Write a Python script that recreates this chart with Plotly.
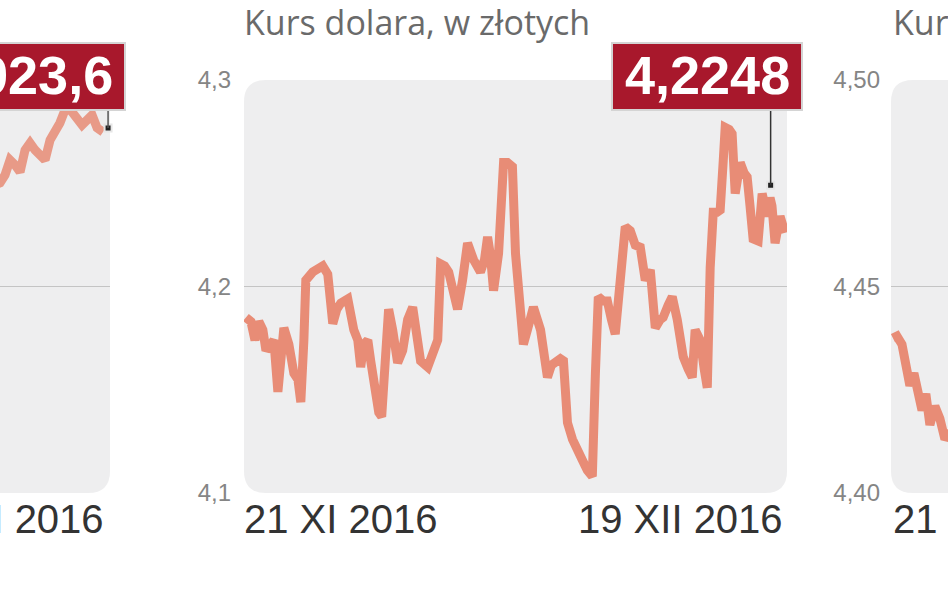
import plotly.graph_objects as go

W, H = 948, 593

# ---------------- data ----------------
# middle panel: USD/PLN, x = days since 21 XI 2016
usd_days = [0, 0.26, 0.47, 0.67, 0.88, 1.04, 1.30, 1.45, 1.66, 1.81, 1.97, 2.23, 2.49, 2.70, 2.85,
            3.01, 3.11, 3.47, 3.73, 3.99, 4.25, 4.51, 4.72, 4.93, 5.29, 5.44, 5.60, 5.81, 5.96,
            6.12, 6.33, 6.48, 6.64, 6.90, 7.05, 7.26, 7.41, 7.62, 7.88, 8.14, 8.40, 8.66, 8.87,
            9.07, 9.44, 9.70, 9.96, 10.11, 10.32, 10.53, 10.73, 10.99, 11.25, 11.51, 11.82, 12.18,
            12.39, 12.55, 12.70, 12.86, 13.12, 13.27, 13.38, 13.58, 13.84, 14.00, 14.21, 14.41,
            14.62, 14.93, 15.30, 15.66, 15.87, 16.07, 16.33, 16.49, 16.70, 16.96, 17.21, 17.47,
            17.73, 17.99, 18.15, 18.30, 18.56, 18.77, 18.98, 19.18, 19.44, 19.70, 19.96, 20.22,
            20.48, 20.74, 21.00, 21.26, 21.52, 21.67, 21.93, 22.14, 22.40, 22.71, 22.97, 23.18,
            23.33, 23.59, 23.80, 23.96, 24.11, 24.27, 24.47, 24.63, 24.79, 24.89, 25.10, 25.25,
            25.41, 25.56, 25.67, 25.87, 26.03, 26.18, 26.34, 26.60, 26.81, 27.07, 27.22, 27.32,
            27.48, 27.74, 28.00]
usd_values = [4.185, 4.183, 4.174, 4.183, 4.179, 4.169, 4.172, 4.174, 4.149, 4.164, 4.180, 4.172,
              4.158, 4.155, 4.144, 4.174, 4.203, 4.207, 4.209, 4.210, 4.206, 4.182, 4.189, 4.192,
              4.194, 4.186, 4.179, 4.174, 4.161, 4.172, 4.174, 4.164, 4.151, 4.139, 4.137, 4.174,
              4.189, 4.179, 4.163, 4.169, 4.184, 4.190, 4.174, 4.164, 4.161, 4.167, 4.174, 4.211,
              4.210, 4.207, 4.198, 4.189, 4.203, 4.221, 4.213, 4.207, 4.213, 4.224, 4.215, 4.198,
              4.216, 4.242, 4.260, 4.260, 4.258, 4.216, 4.198, 4.172, 4.179, 4.190, 4.179, 4.156,
              4.162, 4.164, 4.165, 4.164, 4.134, 4.126, 4.122, 4.116, 4.111, 4.108, 4.158, 4.195,
              4.193, 4.193, 4.184, 4.177, 4.203, 4.229, 4.227, 4.220, 4.219, 4.203, 4.208, 4.180,
              4.184, 4.185, 4.191, 4.195, 4.184, 4.166, 4.160, 4.156, 4.179, 4.174, 4.160, 4.151,
              4.209, 4.236, 4.236, 4.237, 4.261, 4.277, 4.276, 4.274, 4.245, 4.254, 4.260, 4.255,
              4.253, 4.239, 4.223, 4.222, 4.245, 4.234, 4.243, 4.239, 4.221, 4.234, 4.226]
usd_ticks = [4.1, 4.2, 4.3]
usd_ticktext = ["4,1", "4,2", "4,3"]
usd_marker_day = 27.25
usd_marker_value = 4.249
usd_label = "4,2248"

# left panel (cut off): index, only the last days visible
left_days = [22.13, 22.39, 22.65, 22.91, 23.17, 23.43, 23.69, 23.95, 24.21, 24.47, 24.73, 24.99,
             25.25, 25.50, 25.76, 25.92, 26.13, 26.39, 26.65, 26.91, 27.17, 27.43, 27.74]
left_values = [1886.4, 1887.7, 1892.5, 1901.6, 1898.6, 1894.3, 1907.6, 1911.9, 1907.6, 1904.0,
               1901.6, 1913.7, 1917.9, 1924.0, 1931.8, 1933.1, 1930.6, 1927.0, 1922.8, 1925.8,
               1928.8, 1921.0, 1918.5]
left_ticks = [1700, 1825, 1950]
left_marker_day = 28.0
left_marker_value = 1921.0
left_label = "1923,6"

# right panel (cut off): EUR/PLN, only the first days visible
eur_days = [0.0, 0.21, 0.47, 0.67, 0.88, 1.09, 1.30, 1.51, 1.71, 1.92, 2.18, 2.44, 2.70, 3.06]
eur_values = [4.4375, 4.438, 4.436, 4.431, 4.426, 4.429, 4.423, 4.420, 4.424, 4.4165, 4.421,
              4.418, 4.413, 4.415]
eur_ticks = [4.40, 4.45, 4.50]
eur_ticktext = ["4,40", "4,45", "4,50"]

date_labels = ["21 XI 2016", "19 XII 2016"]
titles = ["Kurs dolara, w złotych", "Kurs euro, w złotych"]

# ---------------- style ----------------
LINE = "#e88c76"
PANEL = "#eeeeef"
GRID = "#c4c4c4"
BOX = "#a8182c"
TITLE_FONT = dict(family="Open Sans, Liberation Sans, sans-serif", size=34, color="#6a6a6a")
TICK_FONT = dict(family="Liberation Sans, Arial, sans-serif", size=24, color="#858585")
DATE_FONT = dict(family="Liberation Sans, Arial, sans-serif", size=40, color="#333333")
LABEL_FONT = dict(family="Liberation Sans, Arial, sans-serif", size=54, color="white")

ydom = [1 - 493 / H, 1 - 80 / H]

fig = go.Figure()

fig.add_trace(go.Scatter(x=left_days, y=left_values, mode="lines", xaxis="x", yaxis="y",
                         line=dict(color=LINE, width=9), opacity=0.85, hoverinfo="skip"))
fig.add_trace(go.Scatter(x=usd_days, y=usd_values, mode="lines", xaxis="x2", yaxis="y2",
                         line=dict(color=LINE, width=9), hoverinfo="skip"))
fig.add_trace(go.Scatter(x=eur_days, y=eur_values, mode="lines", xaxis="x3", yaxis="y3",
                         line=dict(color=LINE, width=9), hoverinfo="skip"))

# markers
for xa, ya, d, v in [("x", "y", left_marker_day, left_marker_value),
                     ("x2", "y2", usd_marker_day, usd_marker_value)]:
    fig.add_trace(go.Scatter(x=[d], y=[v], mode="markers", xaxis=xa, yaxis=ya, cliponaxis=False,
                             marker=dict(symbol="square", size=7, color="#222222",
                                         line=dict(color="#e6e6e6", width=2)),
                             hoverinfo="skip"))


def rounded(rx, ry, left=True, right=True):
    a = rx if left else 0
    b = rx if right else 0
    ay = ry if left else 0
    by = ry if right else 0
    p = f"M {a},0 L {1 - b},0 "
    p += f"Q 1,0 1,{by} " if right else ""
    p += f"L 1,{1 - by} "
    p += f"Q 1,1 {1 - b},1 " if right else ""
    p += f"L {a},1 "
    p += f"Q 0,1 0,{1 - ay} " if left else ""
    p += f"L 0,{ay} "
    p += f"Q 0,0 {a},0 " if left else ""
    return p + "Z"


shapes = []
# panels
shapes.append(dict(type="path", xref="x domain", yref="y domain", layer="below",
                   path=rounded(22 / 110, 22 / 413, left=False), fillcolor=PANEL, line=dict(width=0)))
shapes.append(dict(type="path", xref="x2 domain", yref="y2 domain", layer="below",
                   path=rounded(22 / 543, 22 / 413), fillcolor=PANEL, line=dict(width=0)))
shapes.append(dict(type="path", xref="x3 domain", yref="y3 domain", layer="below",
                   path=rounded(22 / 57, 22 / 413, right=False), fillcolor=PANEL, line=dict(width=0)))
# mid gridlines
for xr, yr, v in [("x domain", "y", left_ticks[1]), ("x2 domain", "y2", usd_ticks[1]),
                  ("x3 domain", "y3", eur_ticks[1])]:
    shapes.append(dict(type="line", xref=xr, yref=yr, x0=0, x1=1, y0=v, y1=v, layer="below",
                       line=dict(color=GRID, width=1.2)))
# pointer lines
shapes.append(dict(type="line", xref="x", yref="y", x0=left_marker_day, x1=left_marker_day,
                   y0=left_marker_value, y1=left_ticks[-1], layer="above",
                   line=dict(color="#555555", width=1.5)))
shapes.append(dict(type="line", xref="x2", yref="y2", x0=usd_marker_day, x1=usd_marker_day,
                   y0=usd_marker_value, y1=usd_ticks[-1], layer="above",
                   line=dict(color="#333333", width=1.5)))
# label boxes
box_y0, box_y1 = 1 - 110 / H, 1 - 43 / H
shapes.append(dict(type="rect", xref="paper", yref="paper", x0=-0.2, x1=125 / W, y0=box_y0, y1=box_y1,
                   layer="above", fillcolor=BOX, line=dict(color="#d4d4d4", width=2)))
shapes.append(dict(type="rect", xref="paper", yref="paper", x0=612 / W, x1=802 / W, y0=box_y0, y1=box_y1,
                   layer="above", fillcolor=BOX, line=dict(color="#d4d4d4", width=2)))

annotations = []
label_y = 1 - 75 / H
annotations.append(dict(text=f"<b>{left_label}</b>", xref="paper", yref="paper", x=115 / W, y=label_y,
                        xanchor="right", yanchor="middle", showarrow=False, font=LABEL_FONT))
annotations.append(dict(text=f"<b>{usd_label}</b>", xref="paper", yref="paper", x=707 / W, y=label_y,
                        xanchor="center", yanchor="middle", showarrow=False, font=LABEL_FONT))
# titles
title_y = 1 - 22 / H
annotations.append(dict(text=titles[0], xref="x2 domain", yref="paper", x=0, y=title_y,
                        xanchor="left", yanchor="middle", showarrow=False, font=TITLE_FONT, xshift=-2))
annotations.append(dict(text=titles[1], xref="x3 domain", yref="paper", x=0, y=title_y,
                        xanchor="left", yanchor="middle", showarrow=False, font=TITLE_FONT, xshift=0))
# date labels
date_y = 1 - 519 / H
annotations.append(dict(text=date_labels[1], xref="x domain", yref="paper", x=1, y=date_y,
                        xanchor="right", yanchor="middle", showarrow=False, font=DATE_FONT, xshift=-4))
annotations.append(dict(text=date_labels[0], xref="x2 domain", yref="paper", x=0, y=date_y,
                        xanchor="left", yanchor="middle", showarrow=False, font=DATE_FONT, xshift=-2))
annotations.append(dict(text=date_labels[1], xref="x2 domain", yref="paper", x=1, y=date_y,
                        xanchor="right", yanchor="middle", showarrow=False, font=DATE_FONT, xshift=-2))
annotations.append(dict(text=date_labels[0], xref="x3 domain", yref="paper", x=0, y=date_y,
                        xanchor="left", yanchor="middle", showarrow=False, font=DATE_FONT, xshift=0))

xbase = dict(showgrid=False, zeroline=False, showticklabels=False, showline=False, fixedrange=True,
             automargin=False)
ybase = dict(showgrid=False, zeroline=False, showline=False, domain=ydom, fixedrange=True,
             tickfont=TICK_FONT, ticks="", ticklabelstandoff=12, automargin=False)

fig.update_layout(
    width=W, height=H,
    margin=dict(l=0, r=0, t=0, b=0, pad=0, autoexpand=False),
    paper_bgcolor="white", plot_bgcolor="rgba(0,0,0,0)",
    showlegend=False,
    xaxis=dict(xbase, domain=[0, 110 / W], range=[22.39, 28.1], anchor="y"),
    yaxis=dict(ybase, anchor="x", range=[left_ticks[0], left_ticks[-1]], showticklabels=False),
    xaxis2=dict(xbase, domain=[244 / W, 787 / W], range=[-0.1, 28.1], anchor="y2"),
    yaxis2=dict(ybase, anchor="x2", range=[usd_ticks[0], usd_ticks[-1]],
                tickvals=usd_ticks, ticktext=usd_ticktext),
    xaxis3=dict(xbase, domain=[891 / W, 1], range=[-0.1, 2.86], anchor="y3"),
    yaxis3=dict(ybase, anchor="x3", range=[eur_ticks[0], eur_ticks[-1]],
                tickvals=eur_ticks, ticktext=eur_ticktext, ticklabelstandoff=10),
    shapes=shapes,
    annotations=annotations,
)

fig.write_html("out.html", config={"displayModeBar": False},
               post_script="document.body.style.margin='0px';")
